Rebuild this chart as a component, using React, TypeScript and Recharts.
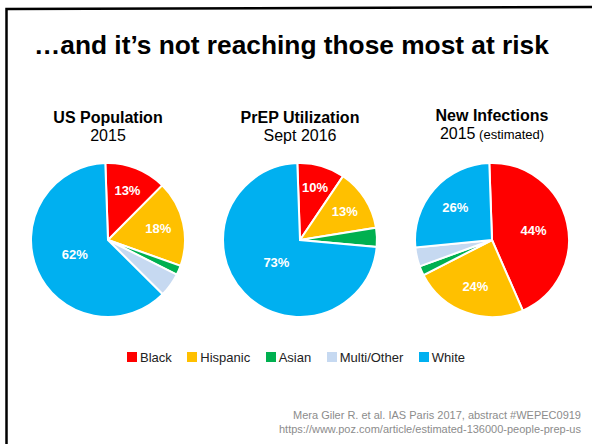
import { PieChart, Pie, Cell } from "recharts"

const GROUPS = ["Black", "Hispanic", "Asian", "Multi/Other", "White"]
const COLORS = ["#FF0000", "#FFC000", "#00B050", "#C6D9F1", "#00B0F0"]

// percent of each group, same order as GROUPS
const US_POPULATION_2015 = [13, 18, 2, 5, 62]
const PREP_USERS_2016 = [10, 13, 4, 0, 73]
const NEW_INFECTIONS_2015 = [44, 24, 2, 4, 26]

const PIE_TITLES = ["US Population", "PrEP Utilization", "New Infections"]
const PIE_SUBTITLES = ["2015", "Sept 2016", "2015"]
const PIE_NOTES = ["", "", "(estimated)"]

const HEADLINE = "…and it’s not reaching those most at risk"
const SOURCE_LINES = [
  "Mera Giler R. et al. IAS Paris 2017, abstract #WEPEC0919",
  "https://www.poz.com/article/estimated-136000-people-prep-us",
]

const FONT = "'Liberation Sans', Arial, Helvetica, sans-serif"
const W = 592
const H = 444
const PIE_X = [108, 300, 492]
const PIE_Y = 240
const PIE_R = 77
const TITLE_Y = [123, 123, 121]

const RAD = Math.PI / 180

function toData(values: number[]) {
  return GROUPS.map((name, i) => ({ name, value: values[i] }))
}

function renderLabel(props: any) {
  const { cx, cy, midAngle, outerRadius, percent, value } = props
  if (!percent || percent < 0.08) return null
  // bigger slices get their label pulled closer to the middle
  const r = outerRadius * (0.75 - 0.45 * percent)
  const x = cx + r * Math.cos(-midAngle * RAD)
  const y = cy + r * Math.sin(-midAngle * RAD)
  return (
    <text
      x={x}
      y={y}
      fill="#fff"
      fontSize={13}
      fontWeight={700}
      fontFamily={FONT}
      textAnchor="middle"
      dominantBaseline="central"
    >
      {`${value}%`}
    </text>
  )
}

export default function App() {
  const pies = [US_POPULATION_2015, PREP_USERS_2016, NEW_INFECTIONS_2015].map(toData)

  return (
    <div
      style={{
        position: "absolute",
        left: 0,
        top: 0,
        width: W,
        height: H,
        overflow: "hidden",
        background: "#fff",
        fontFamily: FONT,
      }}
    >
      <svg width={W} height={H} style={{ position: "absolute", left: 0, top: 0 }}>
        <path d="M6.5 444 L6.5 9 L592 7" fill="none" stroke="#000" strokeWidth={2.5} />
        <text x={34} y={54} fontSize={26.3} fontWeight={700} fill="#000" fontFamily={FONT}>
          {HEADLINE}
        </text>
        {PIE_TITLES.map((t, i) => (
          <g key={t}>
            <text
              x={PIE_X[i]}
              y={TITLE_Y[i]}
              textAnchor="middle"
              fontSize={16}
              fontWeight={700}
              fill="#000"
              fontFamily={FONT}
            >
              {t}
            </text>
            <text
              x={PIE_X[i]}
              y={TITLE_Y[i] + 18}
              textAnchor="middle"
              fontSize={16}
              fill="#000"
              fontFamily={FONT}
            >
              {PIE_SUBTITLES[i]}
              {PIE_NOTES[i] && <tspan fontSize={13}>{" " + PIE_NOTES[i]}</tspan>}
            </text>
          </g>
        ))}
        {SOURCE_LINES.map((line, i) => (
          <text
            key={line}
            x={581}
            y={419 + i * 14}
            textAnchor="end"
            fontSize={11}
            fill="#8c8c8c"
            fontFamily={FONT}
          >
            {line}
          </text>
        ))}
      </svg>

      <div style={{ position: "absolute", left: 0, top: 0 }}>
        <PieChart width={W} height={H} margin={{ top: 0, right: 0, bottom: 0, left: 0 }}>
          {pies.map((data, p) => (
            <Pie
              key={p}
              data={data}
              dataKey="value"
              nameKey="name"
              cx={PIE_X[p]}
              cy={PIE_Y}
              outerRadius={PIE_R}
              startAngle={92}
              endAngle={-268}
              stroke="#fff"
              strokeWidth={2}
              label={renderLabel}
              labelLine={false}
              isAnimationActive={false}
            >
              {data.map((d, i) => (
                <Cell key={d.name} fill={COLORS[i]} />
              ))}
            </Pie>
          ))}
        </PieChart>
      </div>

      <div
        style={{
          position: "absolute",
          left: 0,
          top: 349,
          width: W,
          height: 16,
          display: "flex",
          alignItems: "center",
          justifyContent: "center",
          gap: 15.5,
          fontSize: 13,
          color: "#222",
        }}
      >
        {GROUPS.map((g, i) => (
          <div key={g} style={{ display: "flex", alignItems: "center", gap: 3 }}>
            <span style={{ width: 10, height: 10, background: COLORS[i], display: "inline-block" }} />
            <span>{g}</span>
          </div>
        ))}
      </div>
    </div>
  )
}
